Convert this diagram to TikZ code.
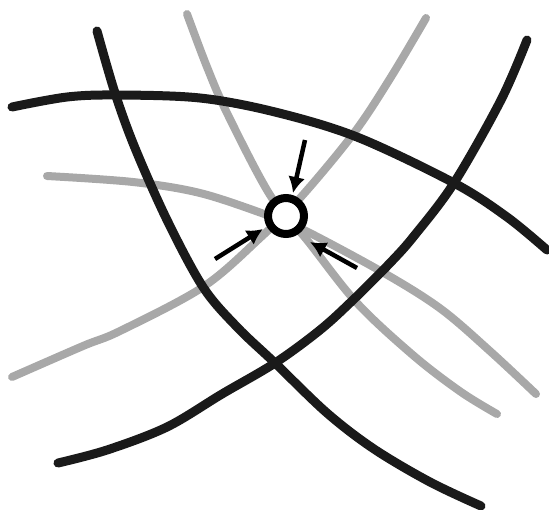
\documentclass[tikz,border=0pt]{standalone}
\usetikzlibrary{arrows.meta}
\definecolor{inkdark}{HTML}{1A1A1A}
\definecolor{inkgrey}{HTML}{A8A8A8}
\tikzset{
  darkline/.style={draw=inkdark, line width=9pt, line cap=round, line join=round},
  greyline/.style={draw=inkgrey, line width=8pt, line cap=round, line join=round},
  pointer/.style={draw=black, line width=4.5pt, -{Latex[length=16pt,width=17pt]}},
  ring/.style={circle, draw=black, line width=8pt, fill=white, minimum size=36pt, inner sep=0pt}
}
\begin{document}
\begin{tikzpicture}[x=1pt,y=-1pt]
\useasboundingbox (0,0) rectangle (549,509);
% grey curves
\draw[greyline] plot[smooth, tension=0.55] coordinates {(187,14) (207,67) (227,113) (270,195) (307,240) (357,303) (414,356) (461,392) (497,414)};
\draw[greyline] plot[smooth, tension=0.55] coordinates {(47,176) (133,182) (200,193) (267,215) (304,230) (384,273) (441,309) (491,352) (536,394)};
\draw[greyline] plot[smooth, tension=0.55] coordinates {(12,377) (83,346) (120,331) (203,287) (260,238) (301,197) (354,133) (391,77) (426,18)};
% dark curves
\draw[darkline] plot[smooth, tension=0.55] coordinates {(12,107) (67,97) (117,95) (200,98) (275,112) (357,137) (454,183) (507,217) (547,250)};
\draw[darkline] plot[smooth, tension=0.55] coordinates {(97,31) (115,93) (135,148) (167,220) (203,287) (237,327) (275,363) (327,413) (374,449) (430,482) (481,506)};
\draw[darkline] plot[smooth, tension=0.55] coordinates {(58,463) (107,450) (167,427) (222,394) (275,363) (320,330) (353,300) (390,263) (414,236) (454,183) (501,100) (527,40)};
% central point
\node[ring] (c) at (286,216) {};
\coordinate (t1) at (305,140);
\coordinate (h1) at (293,193);
\coordinate (t2) at (215,259);
\coordinate (h2) at (263,229);
\coordinate (t3) at (357,268);
\coordinate (h3) at (310,242);
\draw[pointer] (t1) -- (h1);
\draw[pointer] (t2) -- (h2);
\draw[pointer] (t3) -- (h3);
\end{tikzpicture}
\end{document}
